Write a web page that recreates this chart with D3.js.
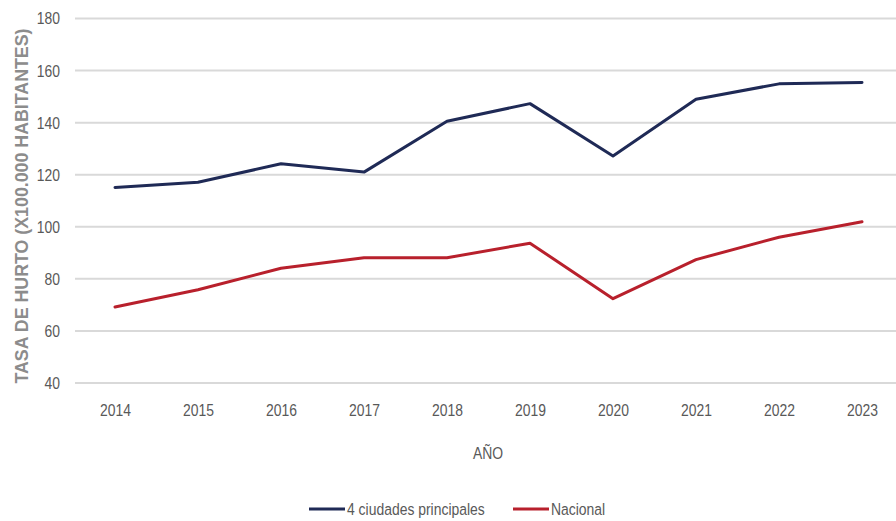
<!DOCTYPE html>
<html><head><meta charset="utf-8">
<script src="https://cdn.jsdelivr.net/npm/d3@7/dist/d3.min.js"></script>
<style>
html,body{margin:0;padding:0;background:#fff;}
svg{display:block;}
</style></head>
<body>
<svg id="chart" width="896" height="521"></svg>
<script>
const years = [2014, 2015, 2016, 2017, 2018, 2019, 2020, 2021, 2022, 2023];
const ciudades = [115.1, 117.1, 124.2, 121.0, 140.5, 147.3, 127.2, 149.0, 154.9, 155.4];
const nacional = [69.2, 75.8, 84.1, 88.1, 88.1, 93.7, 72.4, 87.4, 96.0, 101.9];
const yTicks = [40, 60, 80, 100, 120, 140, 160, 180];
const seriesNames = ["4 ciudades principales", "Nacional"];
const seriesColors = ["#1f2a56", "#b8202c"];

const svg = d3.select("#chart");
const font = "'Liberation Sans', Arial, sans-serif";
const squeeze = "scale(0.82,1)";

const x = d3.scalePoint().domain(years).range([115, 862]);
const y = d3.scaleLinear().domain([40, 180]).range([383, 18.5]);

// gridlines
svg.append("g").selectAll("line").data(yTicks).join("line")
  .attr("x1", 75).attr("x2", 896)
  .attr("y1", d => y(d)).attr("y2", d => y(d))
  .attr("stroke", "#d9d9d9").attr("stroke-width", 2);

// y axis labels
const yAxis = d3.axisLeft(y).tickValues(yTicks).tickSize(0).tickPadding(0);
const gy = svg.append("g").attr("transform", "translate(60,0)").call(yAxis);
gy.select(".domain").remove();
gy.selectAll("text").attr("font-family", font).attr("font-size", 17).attr("fill", "#595959")
  .attr("transform", squeeze);

// x axis labels
const xAxis = d3.axisBottom(x).tickSize(0).tickPadding(0).tickFormat(d3.format("d"));
const gx = svg.append("g").attr("transform", "translate(0,404)").call(xAxis);
gx.select(".domain").remove();
gx.selectAll("text").attr("font-family", font).attr("font-size", 17).attr("fill", "#595959")
  .attr("transform", squeeze);

// axis titles
svg.append("text").attr("transform", "translate(488,459) " + squeeze).attr("text-anchor", "middle")
  .attr("font-family", font).attr("font-size", 17).attr("fill", "#595959").text("AÑO");
svg.append("text").attr("transform", "translate(28,206) rotate(-90)").attr("text-anchor", "middle")
  .attr("font-family", font).attr("font-size", 17.8).attr("font-weight", "bold")
  .attr("fill", "#8c8c8c").text("TASA DE HURTO (X100.000 HABITANTES)");

// lines
const line = d3.line().x((d, i) => x(years[i])).y(d => y(d));
[ciudades, nacional].forEach((s, k) => {
  svg.append("path").datum(s).attr("d", line).attr("fill", "none")
    .attr("stroke", seriesColors[k]).attr("stroke-width", 3)
    .attr("stroke-linejoin", "round").attr("stroke-linecap", "round");
});

// legend
const legendX = [309, 513];
seriesNames.forEach((n, k) => {
  const g = svg.append("g").attr("transform", `translate(${legendX[k]},509)`);
  g.append("line").attr("x1", 0).attr("x2", 36).attr("stroke", seriesColors[k]).attr("stroke-width", 3);
  g.append("text").attr("transform", "translate(38,6) " + squeeze).attr("font-family", font).attr("font-size", 17)
    .attr("fill", "#595959").text(n);
});
</script>
</body></html>
